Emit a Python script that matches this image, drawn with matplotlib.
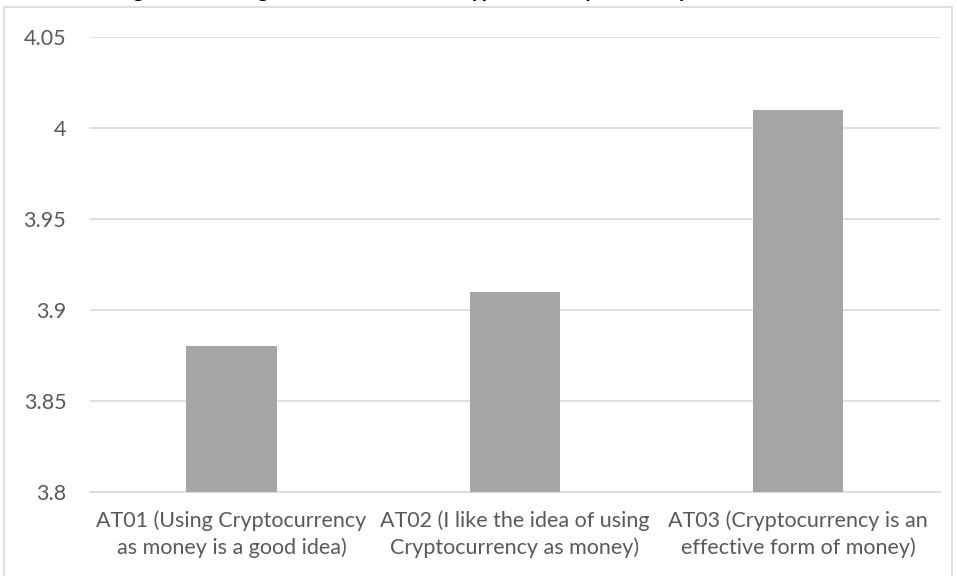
import matplotlib
matplotlib.use("Agg")
import matplotlib.pyplot as plt
from matplotlib.patches import Rectangle

# values
labels = [
    "AT01 (Using Cryptocurrency\nas money is a good idea)",
    "AT02 (I like the idea of using\nCryptocurrency as money)",
    "AT03 (Cryptocurrency is an\neffective form of money)",
]
means = [3.88, 3.91, 4.01]
yticks = [3.8, 3.85, 3.9, 3.95, 4.0, 4.05]
ytick_labels = ["3.8", "3.85", "3.9", "3.95", "4", "4.05"]

plt.rcParams["font.family"] = ["Lato", "DejaVu Sans"]

fig = plt.figure(figsize=(9.57, 5.76), dpi=100)
ax = fig.add_axes([0.094, 0.146, 0.888, 0.790])

x = range(len(labels))
ax.bar(x, means, width=0.32, color="#a5a5a5", zorder=3)

ax.set_xlim(-0.5, len(labels) - 0.5)
ax.set_ylim(3.8, 4.05)
ax.set_yticks(yticks)
ax.set_yticklabels(ytick_labels)
ax.set_xticks(list(x))
ax.set_xticklabels(labels, linespacing=1.4)
ax.tick_params(axis="both", length=0, labelsize=15.5, colors="#595959")
ax.tick_params(axis="y", pad=17)
ax.tick_params(axis="x", pad=13)
ax.grid(axis="y", color="#d9d9d9", lw=1.2, zorder=0)
for s in ["top", "right", "left"]:
    ax.spines[s].set_visible(False)
ax.spines["bottom"].set_color("#d9d9d9")
ax.spines["bottom"].set_linewidth(1.2)

# chart frame and the title, which the reference shows clipped at the top
fig.patches.append(Rectangle((4 / 957, -0.05), 948 / 957, 1.05 - 7 / 576,
                             transform=fig.transFigure, fill=False,
                             ec="#d9d9d9", lw=1.2))
fig.text(0.42, 1.0 + 3 / 576, "Figure 4: Average Attitude towards Cryptocurrency as money",
         ha="center", va="baseline", fontsize=15, weight="bold", color="#000000")

fig.savefig("out.png", dpi=100)
